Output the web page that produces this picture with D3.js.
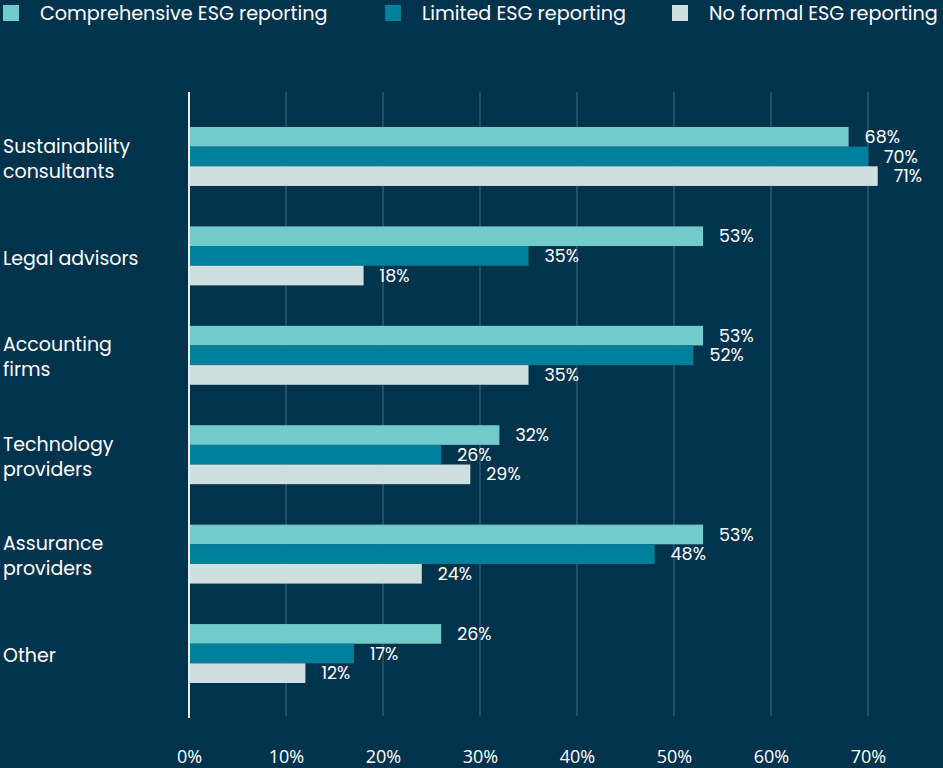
<!DOCTYPE html>
<html>
<head>
<meta charset="utf-8">
<script src="https://cdn.jsdelivr.net/npm/d3@7"></script>
<style>
  html, body { margin: 0; padding: 0; background: #02334d; }
  svg { display: block; }
  text { font-family: "Poppins", "Open Sans", "Noto Sans", sans-serif; fill: #ffffff; }
</style>
</head>
<body>
<svg id="chart" width="943" height="768"></svg>
<script>
// Who organisations turn to for ESG support, split by reporting maturity
const categories = [
  ["Sustainability", "consultants"],
  ["Legal advisors"],
  ["Accounting", "firms"],
  ["Technology", "providers"],
  ["Assurance", "providers"],
  ["Other"]
];
const seriesNames = ["Comprehensive ESG reporting", "Limited ESG reporting", "No formal ESG reporting"];
const comprehensive = [68, 53, 53, 32, 53, 26];
const limited       = [70, 35, 52, 26, 48, 17];
const noFormal      = [71, 18, 35, 29, 24, 12];
const tickValues = [0, 10, 20, 30, 40, 50, 60, 70];
const colors = ["#72cbcb", "#00809a", "#cfdfe0"];

const series = [comprehensive, limited, noFormal];
const svg = d3.select("#chart");
svg.append("rect").attr("width", 943).attr("height", 768).attr("fill", "#02334d");

const plotTop = 92, plotBottom = 718;
const x = d3.scaleLinear().domain([0, 70]).range([189, 868]);
const catKeys = categories.map((c, i) => i);
const y = d3.scaleBand().domain(catKeys).range([plotTop, plotBottom])
  .paddingInner(0.407).paddingOuter(0.352);
const yInner = d3.scaleBand().domain(d3.range(series.length)).range([0, y.bandwidth()]);

// vertical gridlines
svg.append("g").selectAll("line").data(tickValues.slice(1)).join("line")
  .attr("x1", d => x(d)).attr("x2", d => x(d))
  .attr("y1", plotTop).attr("y2", plotBottom - 2)
  .attr("stroke", "#2e5873").attr("stroke-width", 1.5);

// x axis tick labels
const xAxis = d3.axisBottom(x).tickValues(tickValues).tickFormat(d => d + "%").tickSize(0).tickPadding(0);
const gx = svg.append("g").attr("transform", `translate(0,${757})`).call(xAxis);
gx.select(".domain").remove();
gx.selectAll("text").attr("font-size", 18).attr("fill", "#ffffff")
  .attr("dy", "0.32em").style("font-family", "\"Open Sans\", sans-serif");

// bars
const groups = svg.append("g").selectAll("g").data(catKeys).join("g")
  .attr("transform", d => `translate(0,${y(d)})`);
series.forEach((vals, s) => {
  groups.append("rect")
    .attr("x", x(0))
    .attr("y", yInner(s))
    .attr("width", d => x(vals[d]) - x(0))
    .attr("height", yInner.bandwidth())
    .attr("fill", colors[s]);
  groups.append("text")
    .attr("x", d => x(vals[d]) + 16)
    .attr("y", yInner(s) + yInner.bandwidth() / 2)
    .attr("dy", "0.35em")
    .attr("font-size", 17.5)
    .text(d => vals[d] + "%");
});

// zero axis line
svg.append("line").attr("x1", x(0)).attr("x2", x(0))
  .attr("y1", plotTop).attr("y2", plotBottom)
  .attr("stroke", "#e6eef0").attr("stroke-width", 2);

// category labels
const yAxis = svg.append("g");
categories.forEach((lines, i) => {
  const cy = y(i) + y.bandwidth() / 2 + 2;
  const lh = 25;
  const t = yAxis.append("text").attr("x", 3).attr("font-size", 19);
  lines.forEach((ln, k) => {
    t.append("tspan").attr("x", 3)
      .attr("y", cy + (k - (lines.length - 1) / 2) * lh)
      .attr("dy", "0.35em").text(ln);
  });
});

// legend
const legendX = [3, 385, 672];
const legend = svg.append("g");
seriesNames.forEach((name, i) => {
  legend.append("rect").attr("x", legendX[i]).attr("y", 5).attr("width", 16).attr("height", 16)
    .attr("fill", colors[i]);
  legend.append("text").attr("x", legendX[i] + 37).attr("y", 13).attr("dy", "0.35em")
    .attr("font-size", 19.2).text(name);
});
</script>
</body>
</html>
